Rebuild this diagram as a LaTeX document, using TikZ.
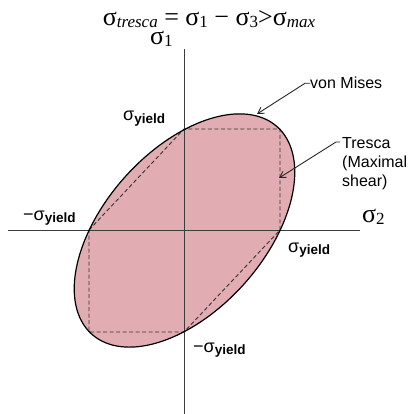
\documentclass[tikz,border=0pt]{standalone}
\usepackage{fontspec}
\setmainfont{Liberation Serif}
\newfontfamily\arialfam{Liberation Sans}
\usetikzlibrary{arrows.meta}
\definecolor{vmfill}{RGB}{225,172,178}
\definecolor{axisgray}{RGB}{60,60,60}
\newcommand\sigyield{σ\raisebox{-2.5pt}{\fontsize{13.5}{14}\selectfont\bfseries yield}}
\newcommand\serifsub[1]{\raisebox{-2pt}{\fontsize{17}{18}\selectfont #1}}
\begin{document}
\begin{tikzpicture}[x=1pt,y=-1pt,
  axisline/.style={draw=axisgray,line width=1pt},
  hexline/.style={draw=black!80,line width=0.9pt,dash pattern=on 4pt off 2.5pt},
  callout/.style={draw=black!85,line width=0.9pt,-{Straight Barb[length=6pt,width=7pt]}},
  lbl/.style={font=\arialfam\fontsize{16}{19}\selectfont,inner sep=0pt},
  ylbl/.style={font=\arialfam\fontsize{18}{20}\selectfont,inner sep=0pt,anchor=base west},
  glbl/.style={font=\fontsize{26}{28}\selectfont,inner sep=0pt,anchor=base west}]
\useasboundingbox (0,0) rectangle (409,414);
% key points
\coordinate (T) at (184,129);
\coordinate (TR) at (280,129);
\coordinate (R) at (280,230);
\coordinate (B) at (184,332);
\coordinate (BL) at (89,332);
\coordinate (L) at (89,230);
\coordinate (axtop) at (184,49);
\coordinate (axbot) at (184,414);
\coordinate (axl) at (8,230);
\coordinate (axr) at (360,230);
% von Mises ellipse fill
\fill[vmfill] plot[domain=0:360,samples=140,smooth cycle]
  ({184.5+95.5*(cos(\x)+0.57735*sin(\x))},{230.5-101*(cos(\x)-0.57735*sin(\x))});
% Tresca hexagon
\draw[hexline] (L) -- (T) -- (TR) -- (R) -- (B) -- (BL) -- cycle;
% axes
\draw[axisline] (axtop) -- (axbot);
\draw[axisline] (axl) -- (axr);
% ellipse outline
\draw[black,line width=1.2pt] plot[domain=0:360,samples=140,smooth cycle]
  ({184.5+95.5*(cos(\x)+0.57735*sin(\x))},{230.5-101*(cos(\x)-0.57735*sin(\x))});
% title and axis labels
\node[font=\fontsize{26}{28}\selectfont,inner sep=0pt,anchor=base] (title) at (209,26)
  {σ\serifsub{\itshape tresca} = σ\serifsub{1} − σ\serifsub{3}>σ\serifsub{\itshape max}};
\node[glbl] (s1) at (150,45) {σ\serifsub{1}};
\node[glbl] (s2) at (362,222) {σ\serifsub{2}};
% yield labels
\node[ylbl] (ytop) at (123,121) {\sigyield};
\node[ylbl] (yleft) at (23,220) {−\sigyield};
\node[ylbl] (yright) at (288,252) {\sigyield};
\node[ylbl] (ybot) at (193,352) {−\sigyield};
% callouts
\node[lbl,anchor=base west] (vm) at (310,89) {von Mises};
\coordinate (vmtip) at (257,114);
\draw[callout] (vm.west) -- ++(-5,0) -- (vmtip);
\node[lbl,align=left,anchor=base west] (tr) at (342,186) {Tresca\\(Maximal\\shear)};
\coordinate (trstart) at (340,142);
\coordinate (trtip) at (279,178);
\draw[callout] (trstart) -- ++(-4,0) -- (trtip);
\end{tikzpicture}
\end{document}
